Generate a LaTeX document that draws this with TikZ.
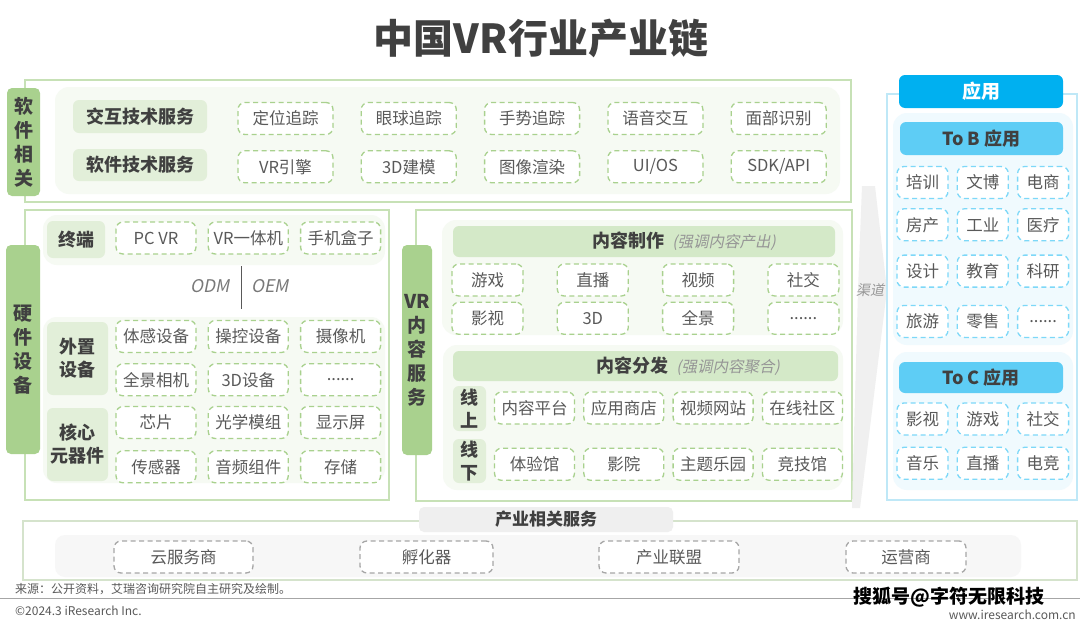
\documentclass[tikz,border=0pt]{standalone}
\usepackage{fontspec}
\usepackage{xcolor}
\usepackage{tikz}
\usetikzlibrary{positioning,calc}
\setmainfont{Noto Sans CJK SC}
\newfontfamily\slantfont{Noto Sans CJK SC}[FakeSlant=0.2]
\definecolor{grnline} {RGB}{199,225,182}
\definecolor{grntab}  {RGB}{169,209,142}
\definecolor{grnlbl}  {RGB}{226,239,217}
\definecolor{grnpale} {RGB}{246,250,243}
\definecolor{grnhead} {RGB}{212,233,200}
\definecolor{grndash} {RGB}{169,209,142}
\definecolor{txtdark} {RGB}{64,64,64}
\definecolor{txtitem} {RGB}{89,89,89}
\definecolor{notegray}{RGB}{150,150,150}
\definecolor{odmgray} {RGB}{120,120,120}
\definecolor{bluehead}{RGB}{0,176,240}
\definecolor{bluesub} {RGB}{94,205,245}
\definecolor{blueline}{RGB}{191,232,247}
\definecolor{bluedash}{RGB}{125,216,248}
\definecolor{bluepale}{RGB}{240,250,254}
\definecolor{indline} {RGB}{213,227,204}
\definecolor{grayhead}{RGB}{239,239,239}
\definecolor{graypale}{RGB}{247,247,247}
\definecolor{graydash}{RGB}{166,166,166}
\definecolor{chanfill}{RGB}{240,240,240}
\tikzset{
  grpbox/.style ={draw=grnline, line width=1.5pt, fill=white, inner sep=0pt},
  appbox/.style ={grpbox, draw=blueline},
  indbox/.style ={grpbox, draw=indline},
  panel/.style  ={fill=grnpale, rounded corners=14pt, inner sep=0pt},
  panelb/.style ={panel, fill=bluepale},
  panelg/.style ={panel, fill=graypale, rounded corners=10pt},
  tabbox/.style ={fill=grntab, rounded corners=5pt, text=txtdark, align=center,
                  font=\bfseries\fontsize{19}{24}\selectfont, inner sep=0pt},
  lblbox/.style ={fill=grnlbl, rounded corners=6pt, text=txtdark, align=center,
                  font=\bfseries\fontsize{18}{23}\selectfont, inner sep=0pt},
  headbox/.style={fill=grnhead, rounded corners=6pt, inner sep=0pt},
  headtxt/.style={text=txtdark, font=\bfseries\fontsize{18}{22}\selectfont, inner sep=0pt},
  itm/.style    ={draw=grndash, dash pattern=on 5pt off 3.5pt, line width=1.3pt,
                  rounded corners=7pt, fill=white, text=txtitem, inner sep=0pt,
                  font=\fontsize{16.5}{20}\selectfont,
                  minimum width=#1, minimum height=32pt},
  itm/.default=80pt,
  bitm/.style   ={itm=51pt, draw=bluedash},
  gitm/.style   ={itm=#1, draw=graydash},
  apphead/.style={fill=bluehead, rounded corners=6pt, text=white, inner sep=0pt,
                  font=\bfseries\fontsize{19}{23}\selectfont},
  subhead/.style={fill=bluesub, rounded corners=6pt, text=txtdark, inner sep=0pt,
                  font=\bfseries\fontsize{18}{22}\selectfont},
  indhead/.style={fill=grayhead, rounded corners=5pt, text=txtdark, inner sep=0pt,
                  font=\bfseries\fontsize{17}{20}\selectfont},
  notetxt/.style={text=notegray, font=\slantfont\fontsize{16}{19}\selectfont, inner sep=0pt},
  srctxt/.style ={text=txtitem, font=\fontsize{12}{14}\selectfont, inner sep=0pt},
  sepline/.style={draw=txtitem, line width=1pt},
  footline/.style={draw=graydash, line width=0.8pt},
}

\begin{document}
\begin{tikzpicture}[x=1pt, y=-1pt]
  \useasboundingbox[fill=white] (0,0) rectangle (1080,627);
  \node[text=txtdark, font=\bfseries\fontsize{40}{46}\selectfont] (title) at (541,38) {中国VR行业产业链};

  % software
  \node[grpbox, minimum width=826pt, minimum height=122pt] (swgrp) at (438,141) {};
  \node[panel, minimum width=785pt, minimum height=107pt] (swpanel) at (447.5,140.5) {};
  \node[tabbox, minimum width=33pt, minimum height=108pt] (swtab) at (23.5,142) {软\\件\\相\\关};
  \node[lblbox, minimum width=134pt, minimum height=33pt] (swlbl1) at (140,116.5) {交互技术服务};
  \node[lblbox, minimum width=134pt, minimum height=32pt] (swlbl2) at (140,165) {软件技术服务};
  \node[itm=95pt] (sw11) at (285.5,118.5) {定位追踪};
  \node[itm=95pt, right=27pt of sw11] (sw12) {眼球追踪};
  \node[itm=95pt, right=27pt of sw12] (sw13) {手势追踪};
  \node[itm=95pt, right=27pt of sw13] (sw14) {语音交互};
  \node[itm=95pt, right=27pt of sw14] (sw15) {面部识别};
  \node[itm=95pt, below=15pt of sw11] (sw21) {VR引擎};
  \node[itm=95pt, below=15pt of sw12] (sw22) {3D建模};
  \node[itm=95pt, below=15pt of sw13] (sw23) {图像渲染};
  \node[itm=95pt, below=15pt of sw14] (sw24) {UI/OS};
  \node[itm=95pt, below=15pt of sw15] (sw25) {SDK/API};

  % hardware
  \node[grpbox, minimum width=364pt, minimum height=290pt] (hwgrp) at (207,355) {};
  \node[panel, minimum width=342pt, minimum height=50pt] (hwpanel1) at (214,240) {};
  \node[panel, minimum width=342pt, minimum height=166pt] (hwpanel2) at (214,400) {};
  \node[tabbox, minimum width=34pt, minimum height=209pt] (hwtab) at (23,349.5) {硬\\件\\设\\备};
  \node[lblbox, minimum width=58pt, minimum height=37pt] (hwlbl1) at (76,239.5) {终端};
  \node[itm] (hw11) at (156,238) {PC VR};
  \node[itm, right=11pt of hw11] (hw12) {VR一体机};
  \node[itm, right=11pt of hw12] (hw13) {手机盒子};
  \node[notetxt, text=odmgray, font=\slantfont\fontsize{17.5}{20}\selectfont] (odm) at (210,286) {ODM};
  \node[notetxt, text=odmgray, font=\slantfont\fontsize{17.5}{20}\selectfont] (oem) at (270,286) {OEM};
  \coordinate (sept) at (241,266);
  \coordinate (sepb) at (241,309);
  \draw[sepline] (sept) -- (sepb);
  \node[lblbox, minimum width=61pt, minimum height=73pt] (hwlbl2) at (77.5,358.5) {外置\\设备};
  \node[lblbox, minimum width=61pt, minimum height=73pt] (hwlbl3) at (77.5,444.5) {核心\\元器件};
  \node[itm] (hw21) at (156,336.5) {体感设备};
  \node[itm, right=11pt of hw21] (hw22) {操控设备};
  \node[itm, right=11pt of hw22] (hw23) {摄像机};
  \node[itm, below=10pt of hw21] (hw31) {全景相机};
  \node[itm, below=10pt of hw22] (hw32) {3D设备};
  \node[itm, below=10pt of hw23] (hw33) {......};
  \node[itm] (hw41) at (156,422.5) {芯片};
  \node[itm, right=11pt of hw41] (hw42) {光学模组};
  \node[itm, right=11pt of hw42] (hw43) {显示屏};
  \node[itm, below=11pt of hw41] (hw51) {传感器};
  \node[itm, below=11pt of hw42] (hw52) {音频组件};
  \node[itm, below=11pt of hw43] (hw53) {存储};

  % vr content
  \node[grpbox, minimum width=436pt, minimum height=291pt] (vrgrp) at (634,355.5) {};
  \node[panel, minimum width=401pt, minimum height=115pt] (vrpanel1) at (642.5,277.5) {};
  \node[panel, minimum width=400pt, minimum height=145pt] (vrpanel2) at (643,417.5) {};
  \node[tabbox, minimum width=30pt, minimum height=210pt] (vrtab) at (417,350) {VR\\内\\容\\服\\务};
  \node[headbox, minimum width=382pt, minimum height=31pt] (prodhead) at (644,241.5) {};
  \node[headtxt] (prodtxt) at (684,241.5) {内容制作\hspace{8pt}{\slantfont\mdseries\color{notegray}\fontsize{15.5}{18}\selectfont(强调内容产出)}};
  \node[itm=71pt] (vr11) at (487.5,280) {游戏};
  \node[itm=71pt, right=33pt of vr11] (vr12) {直播};
  \node[itm=71pt, right=33pt of vr12] (vr13) {视频};
  \node[itm=71pt, right=33pt of vr13] (vr14) {社交};
  \node[itm=71pt, below=5pt of vr11] (vr21) {影视};
  \node[itm=71pt, below=5pt of vr12] (vr22) {3D};
  \node[itm=71pt, below=5pt of vr13] (vr23) {全景};
  \node[itm=71pt, below=5pt of vr14] (vr24) {......};
  \node[headbox, minimum width=385pt, minimum height=30pt] (disthead) at (645.5,366) {};
  \node[headtxt] (disttxt) at (688,366) {内容分发\hspace{8pt}{\slantfont\mdseries\color{notegray}\fontsize{15.5}{18}\selectfont(强调内容聚合)}};
  \node[lblbox, minimum width=33pt, minimum height=45pt] (vrlbl1) at (469.5,408.5) {线\\上};
  \node[lblbox, minimum width=33pt, minimum height=44pt] (vrlbl2) at (469.5,461) {线\\下};
  \node[itm] (vr31) at (534.5,408) {内容平台};
  \node[itm, right=8pt of vr31] (vr32) {应用商店};
  \node[itm, right=8pt of vr32] (vr33) {视频网站};
  \node[itm, right=8pt of vr33] (vr34) {在线社区};
  \node[itm, below=23pt of vr31] (vr41) {体验馆};
  \node[itm, below=23pt of vr32] (vr42) {影院};
  \node[itm, below=23pt of vr33] (vr43) {主题乐园};
  \node[itm, below=23pt of vr34] (vr44) {竞技馆};

  % channel
  \fill[chanfill] (862,186) -- (875,186) -- (887,290) -- (860,508) -- (852,508) -- (858,290) -- cycle;
  \node[notetxt, font=\slantfont\fontsize{14}{16}\selectfont] (chan) at (870,290) {渠道};

  % applications
  \node[appbox, minimum width=190pt, minimum height=406pt] (appgrp) at (982,297) {};
  \node[panelb, minimum width=180pt, minimum height=232pt] (apppanel1) at (983,229) {};
  \node[panelb, minimum width=180pt, minimum height=138pt] (apppanel2) at (983,421) {};
  \node[apphead, minimum width=164pt, minimum height=33pt] (apphd) at (981,91.5) {应用};
  \node[subhead, minimum width=163pt, minimum height=33pt] (tobhead) at (981.5,138.5) {To B 应用};
  \node[bitm] (ab11) at (922.5,182.5) {培训};
  \node[bitm, right=8pt of ab11] (ab12) {文博};
  \node[bitm, right=8pt of ab12] (ab13) {电商};
  \node[bitm, below=9pt of ab11] (ab21) {房产};
  \node[bitm, below=9pt of ab12] (ab22) {工业};
  \node[bitm, below=9pt of ab13] (ab23) {医疗};
  \node[bitm, below=13pt of ab21] (ab31) {设计};
  \node[bitm, below=13pt of ab22] (ab32) {教育};
  \node[bitm, below=13pt of ab23] (ab33) {科研};
  \node[bitm, below=17pt of ab31] (ab41) {旅游};
  \node[bitm, below=17pt of ab32] (ab42) {零售};
  \node[bitm, below=17pt of ab33] (ab43) {......};
  \node[subhead, minimum width=164pt, minimum height=31pt] (tochead) at (981,377.5) {To C 应用};
  \node[bitm] (ac11) at (922.5,419) {影视};
  \node[bitm, right=8pt of ac11] (ac12) {游戏};
  \node[bitm, right=8pt of ac12] (ac13) {社交};
  \node[bitm, below=11pt of ac11] (ac21) {音乐};
  \node[bitm, below=11pt of ac12] (ac22) {直播};
  \node[bitm, below=11pt of ac13] (ac23) {电竞};

  % industry services
  \node[indbox, minimum width=1054pt, minimum height=59pt] (indgrp) at (550,550.5) {};
  \node[panelg, minimum width=966pt, minimum height=42pt] (indpanel) at (538,556) {};
  \node[indhead, minimum width=254pt, minimum height=25pt] (indhd) at (546,519.5) {产业相关服务};
  \node[gitm=139pt] (ind1) at (183.5,557) {云服务商};
  \node[gitm=133pt] (ind2) at (426.5,557) {孵化器};
  \node[gitm=140pt] (ind3) at (669,557) {产业联盟};
  \node[gitm=120pt] (ind4) at (906,557) {运营商};

  % footer
  \node[srctxt, anchor=west] (src) at (15,589) {来源：公开资料，艾瑞咨询研究院自主研究及绘制。};
  \coordinate (fl) at (0,598);
  \coordinate (fr) at (1080,598);
  \draw[footline] (fl) -- (fr);
  \node[srctxt, anchor=west] (cpy) at (15,611) {©2024.3 iResearch Inc.};
  \node[srctxt, anchor=east] (web) at (1076,615) {www.iresearch.com.cn};
  \node[text=black, font=\bfseries\fontsize{19}{22}\selectfont, inner sep=0pt] (wmark) at (949,597) {搜狐号@字符无限科技};
\end{tikzpicture}
\end{document}
